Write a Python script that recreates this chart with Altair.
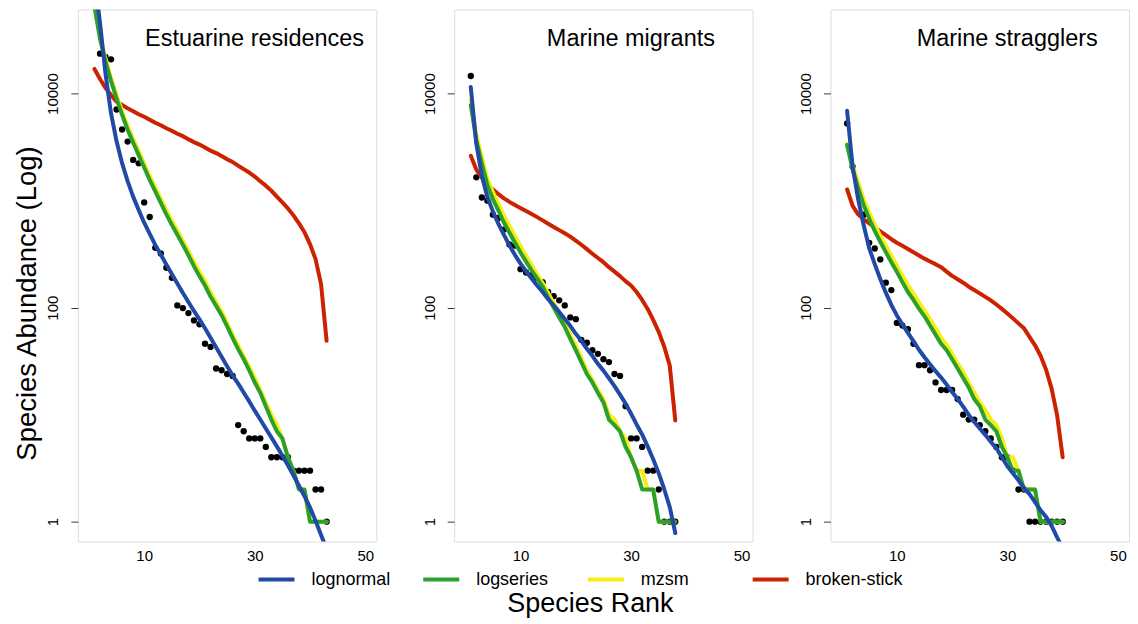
import altair as alt
import pandas as pd

# ---------------- data ----------------
PANELS = ["Estuarine residences", "Marine migrants", "Marine stragglers"]
MODELS = ["lognormal", "logseries", "mzsm", "broken-stick"]
COLORS = ["#2149a6", "#2ca02c", "#f7ee10", "#cc2200"]
X_TICKS = [10, 30, 50]
Y_TICKS = [1, 100, 10000]

# Estuarine residences (43 species)
obs1 = [80000, 23600, 22000, 20900, 7100, 4620, 3560, 2400, 2230, 962,
        703, 362, 321, 236, 190, 105, 99, 89, 76, 70,
        46, 43, 27, 26, 24, 23, 8, 7, 6, 6,
        6, 5, 4, 4, 4, 4, 3, 3, 3, 3,
        2, 2, 1]
lognormal1 = [122000, 45900, 15300, 6520, 3580, 2240, 1520, 1090, 818, 622,
              490, 385, 313, 253, 206, 168, 137, 113, 93.2, 77.7,
              64.1, 52.3, 42.6, 34.8, 28.4, 23.2, 19.5, 16.1, 13.3, 10.9,
              9.02, 7.44, 6.14, 5.06, 4.13, 3.37, 2.72, 2.17, 1.73, 1.36,
              1.02, 0.752, 0.557]
logseries1 = [65000, 32600, 19900, 13100, 9000, 6340, 4590, 3480, 2660, 2040,
              1560, 1220, 952, 744, 594, 480, 387, 309, 244, 197,
              161, 127, 104, 85, 67, 52, 41, 33, 26, 20,
              16, 12, 9, 7, 6, 4, 3, 2, 2, 1,
              1, 1, 1]
mzsm1 = [68000, 34500, 21200, 14000, 9700, 6850, 4980, 3780, 2900, 2220,
         1700, 1330, 1040, 815, 650, 525, 423, 338, 268, 216,
         176, 139, 113, 92, 72, 56, 44, 35, 28, 22,
         17, 13, 10, 8, 6, 4, 3, 2, 2, 1,
         1, 1, 1]
brokenstick1 = [17000, 13700, 11300, 9720, 8370, 7850, 7280, 6830, 6410, 6070,
                5690, 5340, 5060, 4750, 4500, 4220, 4000, 3750, 3520, 3340,
                3130, 2930, 2780, 2610, 2440, 2290, 2120, 1970, 1830, 1680,
                1520, 1380, 1240, 1090, 962, 846, 728, 614, 506, 392,
                284, 166, 49]

# Marine migrants (38 species)
obs2 = [14600, 1650, 1070, 998, 739, 688, 536, 389, 381, 229,
        213, 201, 189, 173, 140, 128, 117, 105, 81, 78,
        50, 47, 40, 37, 33, 31, 24, 23, 12, 6,
        6, 5, 3, 3, 2, 1, 1, 1]
lognormal2 = [11500, 3400, 1700, 1080, 794, 607, 479, 381, 310, 258,
              219, 187, 161, 140, 120, 105, 91.2, 78.5, 67.6, 56.9,
              49, 41.3, 35.5, 29.9, 25.8, 21.9, 18.5, 15.4, 12.7, 10.2,
              8.11, 6.54, 5.06, 3.83, 2.84, 2.01, 1.37, 0.785]
logseries2 = [7800, 3660, 2230, 1400, 1035, 805, 624, 501, 404, 327,
              269, 223, 188, 157, 124, 100, 81, 66, 51, 40,
              31, 24, 20, 16, 13, 9, 8, 7, 5, 4,
              3, 2, 2, 2, 1, 1, 1, 1]
mzsm2 = [8700, 4100, 2500, 1600, 1200, 930, 720, 580, 465, 375,
         305, 250, 205, 170, 137, 110, 89, 72, 56, 44,
         34, 26, 21, 17, 14, 10, 9, 7, 6, 4,
         3, 3, 2, 2, 1, 1, 1, 1]
brokenstick2 = [2620, 1950, 1640, 1400, 1270, 1150, 1050, 973, 910, 851,
                800, 750, 701, 654, 609, 568, 530, 495, 461, 422,
                387, 352, 319, 291, 266, 239, 217, 197, 177, 161,
                140, 118, 97.3, 76.9, 59.4, 43.1, 28.7, 8.83]

# Marine stragglers (40 species)
obs3 = [5260, 2080, 1210, 739, 403, 357, 282, 171, 146, 72,
        68, 63, 46, 29, 29, 26, 20, 17, 17, 17,
        14, 10, 9, 9, 8, 7, 6, 5, 4, 4,
        3, 2, 2, 1, 1, 1, 1, 1, 1, 1]
lognormal3 = [6900, 2080, 1026, 588, 359, 255, 185, 138, 106, 84.6,
              69.8, 58.2, 48.7, 40.4, 34.4, 29.6, 25.5, 22.2, 19.1, 16.3,
              14, 11.9, 9.94, 8.55, 7.44, 6.48, 5.57, 4.85, 4.0, 3.30,
              2.84, 2.44, 2.06, 1.81, 1.52, 1.28, 1.11, 0.912, 0.713, 0.569]
logseries3 = [3310, 1950, 1310, 906, 677, 521, 413, 330, 266, 216,
              173, 140, 118, 98, 83, 68, 56, 46, 40, 33,
              27, 22, 18, 14, 12, 9, 8, 7, 5, 4,
              3, 3, 2, 2, 2, 1, 1, 1, 1, 1]
mzsm3 = [3400, 2150, 1480, 1030, 770, 595, 470, 378, 305, 248,
         200, 162, 135, 112, 94, 78, 64, 52, 45, 37,
         30, 25, 20, 16, 13, 11, 9, 8, 6, 4,
         4, 3, 2, 2, 2, 1, 1, 1, 1, 1]
brokenstick3 = [1270, 893, 744, 668, 614, 557, 517, 475, 436, 404,
                378, 353, 330, 307, 287, 270, 255, 239, 217, 198,
                184, 171, 157, 146, 136, 126, 117, 107, 97.3, 88.3,
                79.4, 71.3, 64.1, 53.4, 44.5, 35.5, 26.3, 17.5, 9.84, 4.0]

SERIES = {
    PANELS[0]: {"observed": obs1, "lognormal": lognormal1, "logseries": logseries1,
                "mzsm": mzsm1, "broken-stick": brokenstick1},
    PANELS[1]: {"observed": obs2, "lognormal": lognormal2, "logseries": logseries2,
                "mzsm": mzsm2, "broken-stick": brokenstick2},
    PANELS[2]: {"observed": obs3, "lognormal": lognormal3, "logseries": logseries3,
                "mzsm": mzsm3, "broken-stick": brokenstick3},
}

rows = []
for pname, series in SERIES.items():
    for model, vals in series.items():
        for i, v in enumerate(vals):
            rows.append({"panel": pname, "model": model, "rank": i + 1, "value": v})
df = pd.DataFrame(rows)

# ---------------- chart ----------------
FONT = "Liberation Sans"
BOX = "#3a3a3a"
PW, PH = 299, 533

x_scale = alt.Scale(domain=[-2, 52], nice=False, zero=False)
y_scale = alt.Scale(type="log", domain=[0.652, 61000], nice=False)
color_scale = alt.Scale(domain=MODELS, range=COLORS)

legend = alt.Legend(
    orient="none", legendX=179, legendY=551, direction="horizontal", columns=4,
    title=None, symbolType="stroke", symbolSize=1296, symbolStrokeWidth=4,
    labelFontSize=18, labelFont=FONT, labelColor="black", labelOffset=15,
    columnPadding=6, gridAlign="all", padding=0,
)


def make_panel(idx, pname):
    x_axis = alt.Axis(
        values=X_TICKS, ticks=False, domain=False, grid=False, labelFlush=False,
        labelPadding=7, labelFontSize=15, labelFont=FONT, labelColor="black",
        titleFontSize=27, titleFont=FONT, titleFontWeight="normal", titleColor="black",
        titleX=136, titleY=70, titleAlign="center", titleBaseline="alphabetic",
    )
    y_axis = alt.Axis(
        values=Y_TICKS, format="d", domain=False, grid=False, ticks=True,
        tickSize=7, tickColor=BOX, tickWidth=1, labelFlush=False, labelOverlap=False,
        labelAngle=270, labelAlign="center", labelBaseline="alphabetic", labelPadding=13,
        labelFontSize=15, labelFont=FONT, labelColor="black",
        titleFontSize=27.5, titleFont=FONT, titleFontWeight="normal", titleColor="black",
        titleAngle=270, titleX=-42, titleY=294, titleAlign="center",
        titleBaseline="alphabetic",
    )
    xt = "Species Rank" if idx == 1 else None
    yt = "Species Abundance (Log)" if idx == 0 else None
    x_enc = alt.X("rank:Q", scale=x_scale, axis=x_axis, title=xt)
    y_enc = alt.Y("value:Q", scale=y_scale, axis=y_axis, title=yt)

    base = alt.Chart(df).transform_filter(alt.datum.panel == pname)
    layers = [
        base.transform_filter(alt.datum.model == "observed")
        .mark_circle(size=40, color="black", opacity=1, clip=True)
        .encode(x=x_enc, y=y_enc)
    ]
    for m in ["broken-stick", "mzsm", "logseries", "lognormal"]:
        layers.append(
            base.transform_filter(alt.datum.model == m)
            .mark_line(strokeWidth=4, clip=True, strokeJoin="round", strokeCap="round")
            .encode(x=x_enc, y=y_enc,
                    color=alt.Color("model:N", scale=color_scale, legend=legend))
        )
    label = (
        alt.Chart(pd.DataFrame({"label": [pname]}))
        .mark_text(fontSize=23.5, font=FONT, color="black", align="center",
                   baseline="alphabetic")
        .encode(text="label:N", x=alt.value(177), y=alt.value(37))
    )
    layers.append(label)
    return alt.layer(*layers).properties(width=PW, height=PH)


chart = (
    alt.hconcat(*[make_panel(i, p) for i, p in enumerate(PANELS)], spacing=78, bounds="flush")
    .configure_view(stroke=BOX, strokeWidth=1)
    .configure(font=FONT, padding={"left": 5, "top": 0, "right": 0, "bottom": 0},
               background="white")
)

chart.save("out.html", embed_options={"renderer": "svg", "actions": False})
